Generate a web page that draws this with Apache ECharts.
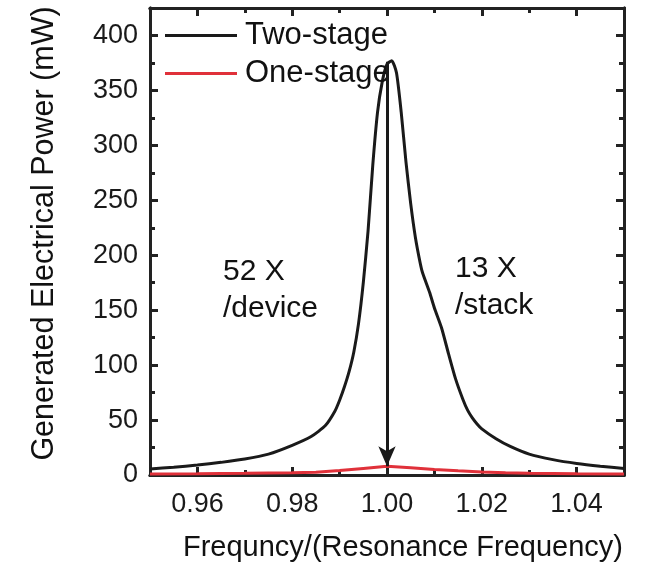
<!DOCTYPE html>
<html>
<head>
<meta charset="utf-8">
<script src="https://cdn.jsdelivr.net/npm/echarts@6/dist/echarts.min.js"></script>
<style>
html,body{margin:0;padding:0;background:#fff;}
#c{width:660px;height:567px;}
</style>
</head>
<body>
<div id="c"></div>
<script>
// ---- data ----
var twoStage = [
  [0.950, 5.5], [0.955, 7], [0.960, 9], [0.965, 11.5], [0.970, 14.5], [0.975, 19],
  [0.980, 27], [0.984, 35], [0.987, 45], [0.989, 58], [0.990, 68], [0.991, 80],
  [0.992, 94], [0.993, 112], [0.994, 138], [0.995, 175], [0.996, 222], [0.997, 282],
  [0.998, 330], [0.999, 358], [1.000, 374], [1.001, 377], [1.002, 366], [1.003, 330],
  [1.004, 285], [1.005, 247], [1.006, 216], [1.007, 193], [1.0075, 184], [1.009, 166],
  [1.010, 152], [1.0115, 134], [1.013, 110], [1.0145, 87], [1.016, 69], [1.017, 59],
  [1.018, 52], [1.019, 46.5], [1.020, 42], [1.023, 33], [1.026, 26], [1.030, 19],
  [1.035, 14], [1.040, 10.5], [1.045, 8], [1.050, 6]
];
var oneStage = [
  [0.950, 1], [0.960, 1.2], [0.970, 1.5], [0.980, 2], [0.985, 2.6], [0.990, 4],
  [0.995, 6], [1.000, 8], [1.005, 6.5], [1.010, 5], [1.015, 3.8], [1.020, 2.8],
  [1.025, 2], [1.030, 1.6], [1.040, 1.2], [1.050, 1]
];
var seriesNames = ['Two-stage', 'One-stage'];
var xMajorTicks = [0.96, 0.98, 1.00, 1.02, 1.04];
var xMinorTicks = [0.95, 0.97, 0.99, 1.01, 1.03, 1.05];
var yMajorTicks = [0, 50, 100, 150, 200, 250, 300, 350, 400];
var yMinorTicks = [25, 75, 125, 175, 225, 275, 325, 375];
var arrowFrom = [1.000, 376];
var arrowTo = [1.000, 8];
var annotations = ['52 X\n/device', '13 X\n/stack'];
var xTitle = 'Frequncy/(Resonance Frequency)';
var yTitle = 'Generated Electrical Power (mW)';

var FONT = '"Liberation Sans", Arial, sans-serif';
var AX = '#222';

function xAxisDef(pos, ticks, len, labels, name) {
  return {
    type: 'value', min: 0.95, max: 1.05, position: pos, gridIndex: 0,
    axisLine: { show: true, onZero: false, lineStyle: { color: AX, width: 3 } },
    axisTick: { show: true, inside: true, length: len, customValues: ticks, lineStyle: { color: AX, width: 3 } },
    axisLabel: labels ? {
      show: true, customValues: ticks, margin: 16, color: '#1a1a1a', fontSize: 27, fontFamily: FONT,
      formatter: function (v) { return v.toFixed(2); }
    } : { show: false },
    splitLine: { show: false },
    name: name || '', nameLocation: 'middle', nameGap: 58,
    nameTextStyle: { color: '#111', fontSize: 29, fontFamily: FONT, padding: [0, 0, 0, 32] }
  };
}
function yAxisDef(pos, ticks, len, labels, name) {
  return {
    type: 'value', min: 0, max: 425, position: pos, gridIndex: 0,
    axisLine: { show: true, onZero: false, lineStyle: { color: AX, width: 3 } },
    axisTick: { show: true, inside: true, length: len, customValues: ticks, lineStyle: { color: AX, width: 3 } },
    axisLabel: labels ? {
      show: true, customValues: ticks, margin: 12, color: '#1a1a1a', fontSize: 27, fontFamily: FONT
    } : { show: false },
    splitLine: { show: false },
    name: name || '', nameLocation: 'middle', nameGap: 90, nameRotate: 90,
    nameTextStyle: { color: '#111', fontSize: 30.5, fontFamily: FONT, padding: [0, 0, 0, 16] }
  };
}

var chart = echarts.init(document.getElementById('c'), null, { renderer: 'canvas' });
chart.setOption({
  animation: false,
  backgroundColor: '#fff',
  grid: { left: 150, right: 36, top: 8, bottom: 85, containLabel: false },
  xAxis: [
    xAxisDef('bottom', xMajorTicks, 8, true, xTitle),
    xAxisDef('bottom', xMinorTicks, 5, false),
    xAxisDef('top', xMajorTicks, 8, false),
    xAxisDef('top', xMinorTicks, 5, false)
  ],
  yAxis: [
    yAxisDef('left', yMajorTicks, 8, true, yTitle),
    yAxisDef('left', yMinorTicks, 5, false),
    yAxisDef('right', yMajorTicks, 8, false),
    yAxisDef('right', yMinorTicks, 5, false)
  ],
  legend: {
    orient: 'vertical', left: 160, top: 15, itemGap: 7,
    itemWidth: 72, itemHeight: 3, icon: 'rect',
    textStyle: { fontSize: 31, fontFamily: FONT, color: '#111', padding: [0, 0, 0, 3] },
    data: seriesNames
  },
  series: [
    {
      name: seriesNames[0], type: 'line', data: twoStage, xAxisIndex: 0, yAxisIndex: 0,
      showSymbol: false, symbol: 'none', smooth: 0.2, z: 3,
      lineStyle: { color: '#1a1a1a', width: 3 }, itemStyle: { color: '#1a1a1a' },
      markLine: {
        silent: true, animation: false, symbol: ['none', 'arrow'], symbolSize: [13, 20],
        lineStyle: { color: '#1a1a1a', width: 3, type: 'solid' },
        label: { show: false },
        data: [[{ coord: arrowFrom }, { coord: arrowTo }]]
      }
    },
    {
      name: seriesNames[1], type: 'line', data: oneStage, xAxisIndex: 0, yAxisIndex: 0,
      showSymbol: false, symbol: 'none', smooth: false, z: 4,
      lineStyle: { color: '#e0313a', width: 3 }, itemStyle: { color: '#e0313a' }
    }
  ],
  graphic: [
    { type: 'text', left: 223, top: 253, z: 10,
      style: { text: annotations[0], fontSize: 30, fontFamily: FONT, fill: '#111', lineHeight: 37 } },
    { type: 'text', left: 455, top: 250, z: 10,
      style: { text: annotations[1], fontSize: 30, fontFamily: FONT, fill: '#111', lineHeight: 37 } }
  ]
});
</script>
</body>
</html>
